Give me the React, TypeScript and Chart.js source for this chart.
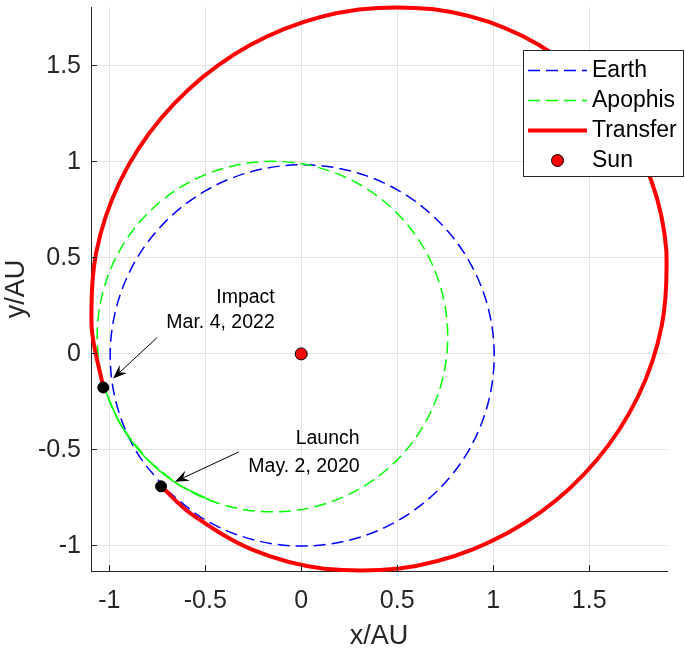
import React, { useEffect, useRef } from 'react';
import { Chart, registerables } from 'chart.js';

Chart.register(...registerables);

// ---------- data ----------
const xTickValues = [-1, -0.5, 0, 0.5, 1, 1.5];
const xTickLabels = ['-1', '-0.5', '0', '0.5', '1', '1.5'];
const yTickValues = [-1, -0.5, 0, 0.5, 1, 1.5];
const yTickLabels = ['-1', '-0.5', '0', '0.5', '1', '1.5'];

const xLimits = [-1.095, 1.905];
const yLimits = [-1.131, 1.807];

const earthX = [-0.702, -0.495, -0.254, 0.005, 0.264, 0.505, 0.712, 0.871, 0.971, 1.005, 0.971, 0.871, 0.712, 0.505, 0.264, 0.005, -0.254, -0.495, -0.702, -0.861, -0.961, -0.995, -0.961, -0.861, -0.702];
const earthY = [-0.710, -0.868, -0.967, -1.001, -0.967, -0.868, -0.710, -0.505, -0.265, -0.008, 0.249, 0.489, 0.694, 0.852, 0.951, 0.985, 0.951, 0.852, 0.694, 0.489, 0.249, -0.008, -0.265, -0.505, -0.710];

const apophisX = [-0.796, -0.607, -0.386, -0.150, 0.086, 0.307, 0.496, 0.641, 0.732, 0.763, 0.732, 0.641, 0.496, 0.307, 0.086, -0.150, -0.386, -0.607, -0.796, -0.941, -1.032, -1.063, -1.032, -0.941, -0.796];
const apophisY = [-0.556, -0.701, -0.792, -0.823, -0.792, -0.701, -0.556, -0.367, -0.146, 0.090, 0.326, 0.547, 0.736, 0.881, 0.972, 1.003, 0.972, 0.881, 0.736, 0.547, 0.326, 0.090, -0.146, -0.367, -0.556];

const apophisArcX = [-1.027, -0.941, -0.818, -0.661, -0.477];
const apophisArcY = [-0.176, -0.367, -0.533, -0.667, -0.762];

const transferX = [-0.730, -0.579, -0.252, 0.119, 0.510, 0.894, 1.245, 1.538, 1.754, 1.878, 1.902, 1.823, 1.648, 1.389, 1.062, 0.691, 0.300, -0.084, -0.435, -0.728, -0.944, -1.068, -1.092, -1.031];
const transferY = [-0.690, -0.829, -1.021, -1.119, -1.118, -1.018, -0.826, -0.554, -0.222, 0.149, 0.533, 0.903, 1.235, 1.506, 1.697, 1.795, 1.794, 1.694, 1.502, 1.230, 0.898, 0.527, 0.143, -0.175];

const eventX = [-0.730, -1.031];
const eventY = [-0.690, -0.175];

const sunX = [0];
const sunY = [0];

const legendLabels = ['Earth', 'Apophis', 'Transfer', 'Sun'];

const noteTexts = ['Impact', 'Mar. 4, 2022', 'Launch', 'May. 2, 2020'];
const noteX = [-0.138, -0.138, 0.304, 0.304];
const noteY = [0.293, 0.162, -0.443, -0.586];

const arrowFromX = [-0.752, -0.326];
const arrowFromY = [0.084, -0.511];
const arrowToX = [-0.980, -0.658];
const arrowToY = [-0.128, -0.666];

// ---------- helpers ----------
const FONT = "'Liberation Sans', Arial, Helvetica, sans-serif";
const AXIS_COLOR = '#262626';
const toPts = (xs: number[], ys: number[]) => xs.map((x, i) => ({ x, y: ys[i] }));
const align = (p: number) => Math.round(p - 0.5) + 0.5;

const innerTicksPlugin = {
  id: 'innerTicks',
  afterDatasetsDraw(chart: any) {
    const { ctx, chartArea: a, scales } = chart;
    ctx.save();
    ctx.strokeStyle = AXIS_COLOR;
    ctx.lineWidth = 1;
    ctx.beginPath();
    xTickValues.forEach((v) => {
      const px = align(scales.x.getPixelForValue(v));
      ctx.moveTo(px, a.bottom);
      ctx.lineTo(px, a.bottom - 6);
    });
    yTickValues.forEach((v) => {
      const py = align(scales.y.getPixelForValue(v));
      ctx.moveTo(a.left, py);
      ctx.lineTo(a.left + 6, py);
    });
    ctx.stroke();
    ctx.restore();
  },
};

const annotationPlugin = {
  id: 'notes',
  afterDatasetsDraw(chart: any) {
    const { ctx, scales } = chart;
    ctx.save();
    ctx.strokeStyle = '#000';
    ctx.fillStyle = '#000';
    ctx.lineWidth = 1;
    arrowFromX.forEach((_, i) => {
      const x1 = scales.x.getPixelForValue(arrowFromX[i]);
      const y1 = scales.y.getPixelForValue(arrowFromY[i]);
      const x2 = scales.x.getPixelForValue(arrowToX[i]);
      const y2 = scales.y.getPixelForValue(arrowToY[i]);
      const dx = x2 - x1;
      const dy = y2 - y1;
      const len = Math.hypot(dx, dy);
      const ux = dx / len;
      const uy = dy / len;
      const nx = -uy;
      const ny = ux;
      const L = 14;
      const W = 5.5;
      const N = 9;
      ctx.beginPath();
      ctx.moveTo(x1, y1);
      ctx.lineTo(x2 - ux * N, y2 - uy * N);
      ctx.stroke();
      ctx.beginPath();
      ctx.moveTo(x2, y2);
      ctx.lineTo(x2 - ux * L + nx * W, y2 - uy * L + ny * W);
      ctx.lineTo(x2 - ux * N, y2 - uy * N);
      ctx.lineTo(x2 - ux * L - nx * W, y2 - uy * L - ny * W);
      ctx.closePath();
      ctx.fill();
    });
    ctx.font = `19.5px ${FONT}`;
    ctx.textAlign = 'right';
    ctx.textBaseline = 'middle';
    noteTexts.forEach((t, i) => {
      ctx.fillText(t, scales.x.getPixelForValue(noteX[i]), scales.y.getPixelForValue(noteY[i]));
    });
    ctx.restore();
  },
};

const legendPlugin = {
  id: 'boxLegend',
  afterDraw(chart: any) {
    const ctx = chart.ctx;
    const l = 523, t = 50, r = 684, b = 177;
    ctx.save();
    ctx.fillStyle = '#ffffff';
    ctx.fillRect(l, t, r - l, b - t);
    ctx.strokeStyle = AXIS_COLOR;
    ctx.lineWidth = 1;
    ctx.strokeRect(l + 0.5, t + 0.5, r - l - 1, b - t - 1);
    legendLabels.forEach((lbl, i) => {
      const ds: any = chart.data.datasets.find((d: any) => d.label === lbl);
      if (!ds) return;
      const y = 70.5 + i * 30;
      if (ds.showLine) {
        ctx.save();
        ctx.strokeStyle = ds.borderColor;
        ctx.lineWidth = ds.borderWidth;
        ctx.setLineDash(ds.borderDash || []);
        ctx.beginPath();
        ctx.moveTo(528, y);
        ctx.lineTo(587, y);
        ctx.stroke();
        ctx.restore();
      } else {
        ctx.beginPath();
        ctx.arc(557.5, y, ds.pointRadius, 0, Math.PI * 2);
        ctx.fillStyle = ds.pointBackgroundColor;
        ctx.fill();
        ctx.strokeStyle = ds.pointBorderColor;
        ctx.lineWidth = ds.pointBorderWidth;
        ctx.stroke();
      }
      ctx.fillStyle = '#000';
      ctx.font = `23px ${FONT}`;
      ctx.textAlign = 'left';
      ctx.textBaseline = 'middle';
      ctx.fillText(lbl, 592, y);
    });
    ctx.restore();
  },
};

const noPad = (s: any) => {
  s.paddingTop = 0;
  s.paddingBottom = 0;
  s.paddingLeft = 0;
  s.paddingRight = 0;
};

export default function App() {
  const ref = useRef<HTMLCanvasElement>(null);

  useEffect(() => {
    document.body.style.margin = '0';
    const lineBase = { showLine: true, pointRadius: 0, tension: 0.34, fill: false };
    const chart = new Chart(ref.current as HTMLCanvasElement, {
      type: 'scatter',
      data: {
        datasets: [
          {
            label: 'Sun', data: toPts(sunX, sunY), showLine: false, pointRadius: 6,
            pointBackgroundColor: '#ff0000', pointBorderColor: '#000000', pointBorderWidth: 1,
            backgroundColor: '#ff0000', borderColor: '#000000', borderWidth: 1, order: 0,
          },
          {
            label: '', data: toPts(eventX, eventY), showLine: false, pointRadius: 5.5,
            pointBackgroundColor: '#000000', pointBorderColor: '#000000', pointBorderWidth: 1,
            backgroundColor: '#000000', borderColor: '#000000', order: 1,
          },
          {
            ...lineBase, label: '', data: toPts(apophisArcX, apophisArcY),
            borderColor: '#00ff00', borderWidth: 1.6, order: 2,
          },
          {
            ...lineBase, label: 'Transfer', data: toPts(transferX, transferY),
            borderColor: '#ff0000', borderWidth: 4, order: 3, clip: 3,
          },
          {
            ...lineBase, label: 'Apophis', data: toPts(apophisX, apophisY),
            borderColor: '#00ff00', borderWidth: 1.5, borderDash: [12, 6], order: 4,
          },
          {
            ...lineBase, label: 'Earth', data: toPts(earthX, earthY),
            borderColor: '#0000ff', borderWidth: 1.5, borderDash: [12, 6], order: 5,
          },
        ] as any,
      },
      options: {
        animation: false,
        responsive: false,
        devicePixelRatio: 1,
        events: [],
        layout: { padding: { left: 0, top: 4, right: 18, bottom: 0 } },
        plugins: { legend: { display: false }, tooltip: { enabled: false } },
        scales: {
          x: {
            type: 'linear', min: xLimits[0], max: xLimits[1],
            afterBuildTicks: (s: any) => { s.ticks = xTickValues.map((v) => ({ value: v })); },
            afterFit: (s: any) => { s.height = 81; noPad(s); },
            ticks: {
              callback: (v: any) => xTickLabels[xTickValues.indexOf(Number(v))] ?? '',
              font: { family: FONT, size: 25 }, color: AXIS_COLOR, padding: 15,
              maxRotation: 0, autoSkip: false,
            },
            grid: { color: '#e3e3e3', lineWidth: 1, drawTicks: false },
            border: { display: true, color: AXIS_COLOR, width: 1 },
            title: { display: true, text: 'x/AU', font: { family: FONT, size: 27 }, color: AXIS_COLOR, padding: { top: 0, bottom: -1 } },
          },
          y: {
            type: 'linear', min: yLimits[0], max: yLimits[1],
            afterBuildTicks: (s: any) => { s.ticks = yTickValues.map((v) => ({ value: v })); },
            afterFit: (s: any) => { s.width = 91; noPad(s); },
            ticks: {
              callback: (v: any) => yTickLabels[yTickValues.indexOf(Number(v))] ?? '',
              font: { family: FONT, size: 25 }, color: AXIS_COLOR, padding: 10,
              autoSkip: false,
            },
            grid: { color: '#e3e3e3', lineWidth: 1, drawTicks: false },
            border: { display: true, color: AXIS_COLOR, width: 1 },
            title: { display: true, text: 'y/AU', font: { family: FONT, size: 27 }, color: AXIS_COLOR, padding: { top: 0, bottom: 0 } },
          },
        },
      } as any,
      plugins: [annotationPlugin, innerTicksPlugin, legendPlugin],
    });
    return () => chart.destroy();
  }, []);

  return (
    <div style={{ position: 'absolute', left: 0, top: 0, width: 685, height: 652, background: '#ffffff' }}>
      <canvas ref={ref} width={685} height={652} style={{ display: 'block', width: 685, height: 652 }} />
    </div>
  );
}
